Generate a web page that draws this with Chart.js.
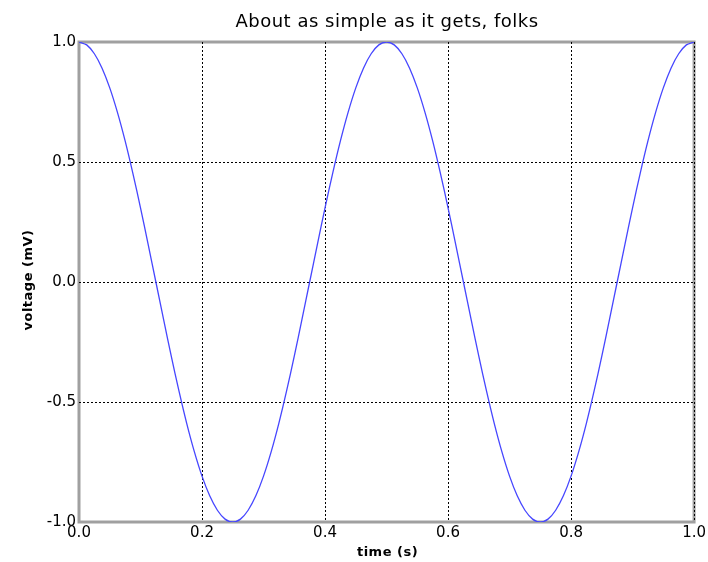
<!DOCTYPE html>
<html lang="en">
<head>
    <meta charset="UTF-8">
    <title>About as simple as it gets, folks</title>
    <script src="https://cdn.jsdelivr.net/npm/chart.js"></script>
    <style>
        body {
            margin: 0;
            padding: 0;
            background: white;
        }
        #wrap {
            width: 708px;
            height: 562px;
        }
    </style>
</head>
<body>
    <div id="wrap"><canvas id="plot" width="708" height="562"></canvas></div>

    <script>
        // time (s), sampled every 0.0125 s
        const times = [
            0.0000, 0.0125, 0.0250, 0.0375, 0.0500, 0.0625, 0.0750, 0.0875, 0.1000, 0.1125,
            0.1250, 0.1375, 0.1500, 0.1625, 0.1750, 0.1875, 0.2000, 0.2125, 0.2250, 0.2375,
            0.2500, 0.2625, 0.2750, 0.2875, 0.3000, 0.3125, 0.3250, 0.3375, 0.3500, 0.3625,
            0.3750, 0.3875, 0.4000, 0.4125, 0.4250, 0.4375, 0.4500, 0.4625, 0.4750, 0.4875,
            0.5000, 0.5125, 0.5250, 0.5375, 0.5500, 0.5625, 0.5750, 0.5875, 0.6000, 0.6125,
            0.6250, 0.6375, 0.6500, 0.6625, 0.6750, 0.6875, 0.7000, 0.7125, 0.7250, 0.7375,
            0.7500, 0.7625, 0.7750, 0.7875, 0.8000, 0.8125, 0.8250, 0.8375, 0.8500, 0.8625,
            0.8750, 0.8875, 0.9000, 0.9125, 0.9250, 0.9375, 0.9500, 0.9625, 0.9750, 0.9875,
            1.0000
        ];
        // voltage (mV)
        const voltage = [
            1.000, 0.988, 0.951, 0.891, 0.809, 0.707, 0.588, 0.454, 0.309, 0.156,
            0.000, -0.156, -0.309, -0.454, -0.588, -0.707, -0.809, -0.891, -0.951, -0.988,
            -1.000, -0.988, -0.951, -0.891, -0.809, -0.707, -0.588, -0.454, -0.309, -0.156,
            0.000, 0.156, 0.309, 0.454, 0.588, 0.707, 0.809, 0.891, 0.951, 0.988,
            1.000, 0.988, 0.951, 0.891, 0.809, 0.707, 0.588, 0.454, 0.309, 0.156,
            0.000, -0.156, -0.309, -0.454, -0.588, -0.707, -0.809, -0.891, -0.951, -0.988,
            -1.000, -0.988, -0.951, -0.891, -0.809, -0.707, -0.588, -0.454, -0.309, -0.156,
            0.000, 0.156, 0.309, 0.454, 0.588, 0.707, 0.809, 0.891, 0.951, 0.988,
            1.000
        ];
        const xTicks = [0.0, 0.2, 0.4, 0.6, 0.8, 1.0];
        const yTicks = [-1.0, -0.5, 0.0, 0.5, 1.0];

        const titleText = "About as simple as it gets, folks";
        const xLabel = "time (s)";
        const yLabel = "voltage (mV)";

        const FONT = "'DejaVu Sans', sans-serif";

        // frame behind the grid, title and axis labels on top
        const decorations = {
            id: "decorations",
            beforeDraw(chart) {
                const ctx = chart.ctx;
                const a = chart.chartArea;
                ctx.save();
                ctx.strokeStyle = "#a0a0a0";
                ctx.lineWidth = 3;
                ctx.strokeRect(a.left, a.top, a.right - a.left, a.bottom - a.top);
                ctx.restore();
            },
            afterDraw(chart) {
                const ctx = chart.ctx;
                const a = chart.chartArea;
                const cx = (a.left + a.right) / 2;
                ctx.save();
                ctx.fillStyle = "#000";
                ctx.textAlign = "center";
                ctx.letterSpacing = "0.5px";
                ctx.textBaseline = "alphabetic";
                ctx.font = "18px " + FONT;
                ctx.fillText(titleText, cx + 0.5, 27);
                ctx.textBaseline = "middle";
                ctx.font = "bold 13px " + FONT;
                ctx.fillText(xLabel, cx + 1, 553);
                ctx.translate(29, 280);
                ctx.rotate(-Math.PI / 2);
                ctx.fillText(yLabel, 0, 0);
                ctx.restore();
            }
        };

        const points = times.map((t, i) => ({ x: t, y: voltage[i] }));

        new Chart(document.getElementById("plot"), {
            type: "line",
            data: {
                datasets: [{
                    data: points,
                    borderColor: "rgb(70,70,255)",
                    borderWidth: 1.3,
                    pointRadius: 0,
                    tension: 0.3,
                    fill: false
                }]
            },
            plugins: [decorations],
            options: {
                responsive: false,
                animation: false,
                devicePixelRatio: 1,
                layout: { padding: { top: 42, right: 10, left: 0, bottom: 0 } },
                plugins: {
                    legend: { display: false },
                    title: { display: false },
                    tooltip: { enabled: false }
                },
                scales: {
                    x: {
                        type: "linear",
                        min: 0,
                        max: 1,
                        afterFit(scale) { scale.height = 40; },
                        afterBuildTicks(scale) {
                            scale.ticks = xTicks.map(v => ({ value: v }));
                        },
                        border: { display: false, dash: [2, 2] },
                        grid: {
                            drawTicks: false,
                            color: ctx => ctx.index === 0 ? "rgba(0,0,0,0)" : "#000",
                            lineWidth: 1
                        },
                        ticks: {
                            padding: 2,
                            color: "#000",
                            font: { family: FONT, size: 15 },
                            maxRotation: 0,
                            callback: v => v.toFixed(1)
                        }
                    },
                    y: {
                        type: "linear",
                        min: -1,
                        max: 1,
                        afterFit(scale) { scale.width = 79; },
                        afterBuildTicks(scale) {
                            scale.ticks = yTicks.map(v => ({ value: v }));
                        },
                        border: { display: false, dash: [2, 2] },
                        grid: {
                            drawTicks: false,
                            color: ctx => (ctx.index === 0 || ctx.index === yTicks.length - 1) ? "rgba(0,0,0,0)" : "#000",
                            lineWidth: 1
                        },
                        ticks: {
                            padding: 3,
                            color: "#000",
                            font: { family: FONT, size: 15 },
                            callback: v => v.toFixed(1)
                        }
                    }
                }
            }
        });
    </script>
</body>
</html>
